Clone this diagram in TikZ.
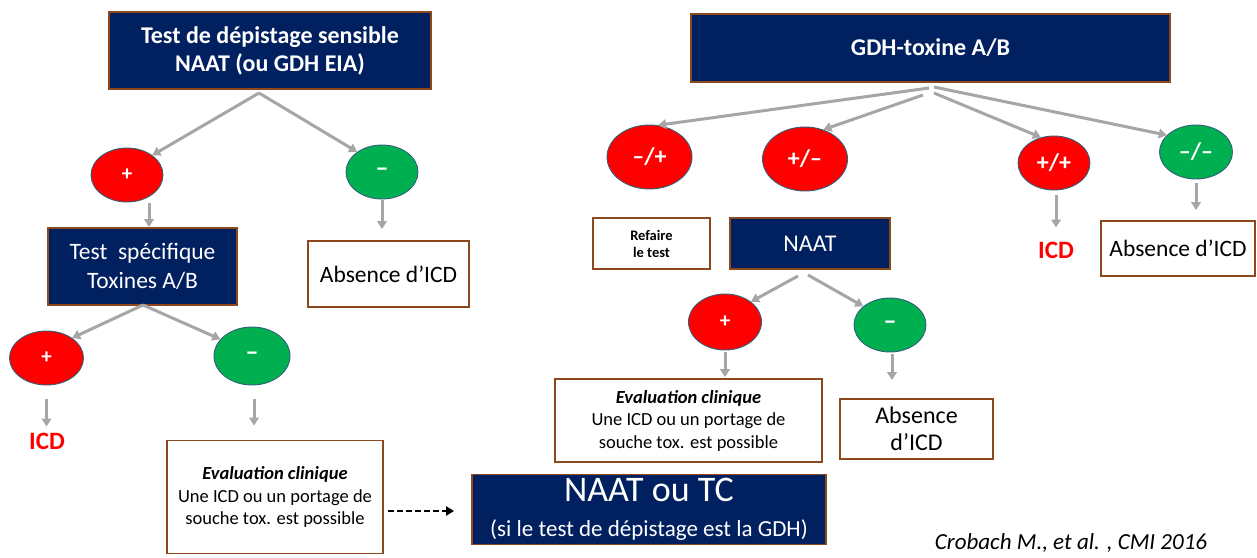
\documentclass[tikz,border=0pt]{standalone}
\usepackage{fontspec}
\setmainfont{Carlito}
\usetikzlibrary{arrows.meta,shapes.geometric}
\definecolor{navy}{RGB}{0,32,96}
\definecolor{brd}{RGB}{140,72,30}
\definecolor{redc}{RGB}{255,0,0}
\definecolor{grnc}{RGB}{0,176,80}
\definecolor{cbd}{RGB}{50,95,120}
\definecolor{arrg}{RGB}{166,166,166}
\newcommand\fsz[2]{\fontsize{#1}{#2}\selectfont}
\tikzset{
  navybox/.style={draw=brd, line width=1.8pt, fill=navy, text=white, inner sep=0pt, align=center},
  whitebox/.style={draw=brd, line width=1.8pt, fill=white, text=black, inner sep=0pt, align=center},
  redcirc/.style={ellipse, draw=cbd, line width=0.9pt, fill=redc, text=white, inner sep=0pt},
  grncirc/.style={ellipse, draw=cbd, line width=0.9pt, fill=grnc, text=white, inner sep=0pt},
  arr/.style={draw=arrg, line width=3pt, -{Triangle[length=8pt,width=9.5pt]}},
  dasharr/.style={draw=black, line width=2.2pt, dash pattern=on 6pt off 3pt, -{Triangle[length=8pt,width=9pt]}},
  redtxt/.style={text=redc, inner sep=0pt, font=\bfseries\fsz{25}{30}},
}
\begin{document}
\begin{tikzpicture}[x=1pt,y=-1pt]
\useasboundingbox (0,0) rectangle (1257,557);
% ---------- left tree ----------
\node[navybox, minimum width=322pt, minimum height=77pt, font=\bfseries\fsz{24}{28}] (b1) at (270,50.5) {Test de dépistage sensible\\NAAT (ou GDH EIA)};
\node[redcirc, minimum width=72pt, minimum height=54pt, font=\bfseries\fsz{21}{24}] (p1) at (127,175) {+};
\node[grncirc, minimum width=72pt, minimum height=54pt, font=\bfseries\fsz{26}{24}] (m1) at (382,172) {–};
\node[navybox, minimum width=189pt, minimum height=77pt, font=\fsz{23.5}{29}] (t2) at (142.5,266.5) {Test\ \ spécifique\\Toxines A/B};
\node[whitebox, minimum width=161pt, minimum height=66pt, font=\fsz{23.5}{28}] (a1) at (388.5,274) {Absence d’ICD};
\node[redcirc, minimum width=74pt, minimum height=54pt, font=\bfseries\fsz{21}{24}] (p2) at (46.5,358) {+};
\node[grncirc, minimum width=76pt, minimum height=58pt, font=\bfseries\fsz{26}{24}] (m2) at (252,356) {–};
\node[redtxt] (icd1) at (47,441) {ICD};
\node[whitebox, minimum width=216pt, minimum height=113pt, font=\fsz{18.5}{22.5}] (ev1) at (275,497) {\textbf{\textit{Evaluation clinique}}\\Une ICD ou un portage de\\souche tox. est possible};
\node[navybox, minimum width=354pt, minimum height=70pt, font=\fsz{23}{35}] (tc) at (649,509.5) {{\fsz{36}{36}NAAT ou TC}\\(si le test de dépistage est la GDH)};
% ---------- right tree ----------
\node[navybox, minimum width=479pt, minimum height=68pt, font=\bfseries\fsz{24}{28}] (gdh) at (930.5,48) {GDH-toxine A/B};
\node[redcirc, minimum width=85pt, minimum height=64pt, font=\bfseries\fsz{24}{28}] (c1) at (649.5,157) {–/+};
\node[redcirc, minimum width=85pt, minimum height=64pt, font=\bfseries\fsz{24}{28}] (c2) at (805,159) {+/–};
\node[redcirc, minimum width=72pt, minimum height=54pt, font=\bfseries\fsz{24}{28}] (c3) at (1054,163) {+/+};
\node[grncirc, minimum width=73pt, minimum height=54pt, font=\bfseries\fsz{24}{28}] (c4) at (1196,152) {–/–};
\node[redtxt] (icd2) at (1056,250) {ICD};
\node[whitebox, minimum width=154pt, minimum height=55pt, font=\fsz{23.5}{28}] (a2) at (1178,248.5) {Absence d’ICD};
\node[whitebox, minimum width=117pt, minimum height=51pt, font=\bfseries\fsz{14.5}{17}] (rf) at (651.5,243.5) {Refaire\\le test};
\node[navybox, minimum width=160pt, minimum height=51pt, font=\fsz{24}{28}] (naat) at (810,243.5) {NAAT};
\node[redcirc, minimum width=73pt, minimum height=56pt, font=\bfseries\fsz{21}{24}] (p3) at (725,322) {+};
\node[grncirc, minimum width=72pt, minimum height=54pt, font=\bfseries\fsz{26}{24}] (m3) at (890,325) {–};
\node[whitebox, minimum width=267pt, minimum height=83pt, font=\fsz{18.5}{22.5}] (ev2) at (688.5,420.5) {\textbf{\textit{Evaluation clinique}}\\Une ICD ou un portage de\\souche tox. est possible};
\node[whitebox, minimum width=153pt, minimum height=60pt, font=\fsz{24}{27}] (a3) at (916.5,429) {Absence\\d’ICD};
\node[inner sep=0pt, font=\itshape\fsz{23}{25}] (cite) at (1071,543) {Crobach M., et al. , CMI 2016};
% ---------- connectors ----------
\coordinate (ap1) at (259,93);
\coordinate (ap2) at (143,305);
\coordinate (g1) at (929,88);
\coordinate (g2) at (923,95);
\coordinate (g3) at (934,93);
\coordinate (g4) at (934,87);
\coordinate (n1) at (798,276);
\coordinate (n2) at (808,275);
\draw[arr] (ap1) -- (p1.38);
\draw[arr] (ap1) -- (m1.141);
\draw[arr] ([xshift=22pt,yshift=-1pt]p1.south) -- ([xshift=22pt]p1.south |- t2.north);
\draw[arr, shorten <=1pt, shorten >=11pt] (m1.south) -- (m1.south |- a1.north);
\draw[arr] (ap2) -- (p2.38);
\draw[arr] (ap2) -- (m2.152);
\draw[arr, shorten <=14pt, shorten >=6pt] (p2.south) -- (p2.south |- icd1.north);
\draw[arr, shorten <=14pt, shorten >=14pt] ([xshift=2pt]m2.south) -- ([xshift=2pt]m2.south |- ev1.north);
\draw[dasharr, shorten <=4pt, shorten >=17pt] ([yshift=-14pt]ev1.east) -- ([yshift=-14pt]ev1.east -| tc.west);
\draw[arr] (g1) -- (c1.75);
\draw[arr] (g2) -- (c2.58);
\draw[arr] (g3) -- (c3.117);
\draw[arr] (g4) -- (c4.150);
\draw[arr, shorten <=5pt, shorten >=14pt] ([xshift=2pt]c3.south) -- ([xshift=2pt]c3.south |- icd2.north);
\draw[arr, shorten <=4pt, shorten >=10pt] (c4.south) -- (c4.south |- a2.north);
\draw[arr] (n1) -- (p3.38);
\draw[arr] (n2) -- (m3.145);
\draw[arr, shorten <=2pt, shorten >=1pt] (p3.south) -- (p3.south |- ev2.north);
\draw[arr, shorten <=2pt, shorten >=18pt] ([xshift=2pt]m3.south) -- ([xshift=2pt]m3.south |- a3.north);
\end{tikzpicture}
\end{document}
